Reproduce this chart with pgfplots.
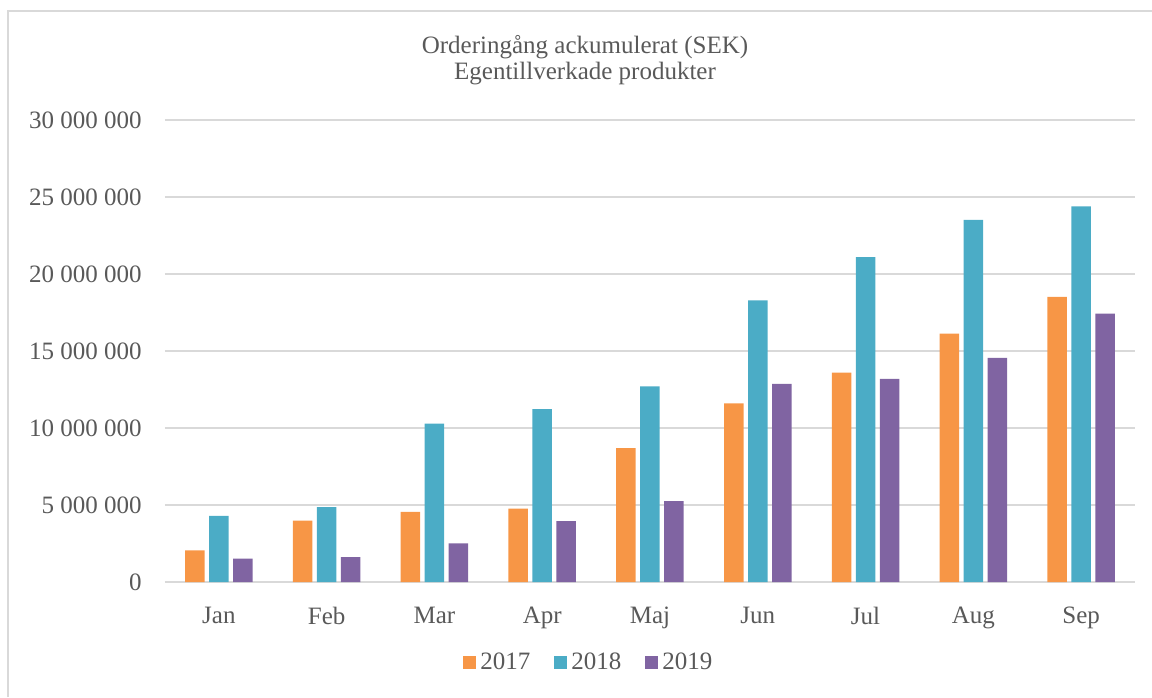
\documentclass[border=0pt]{standalone}
\usepackage{pgfplots}
\pgfplotsset{compat=1.18}
\usepackage{fontspec}
\setmainfont{Liberation Serif}
\definecolor{c17}{HTML}{F79646}
\definecolor{c18}{HTML}{4BACC6}
\definecolor{c19}{HTML}{8064A2}
\definecolor{gridgray}{HTML}{D9D9D9}
\definecolor{txt}{HTML}{595959}
\begin{document}
\fontsize{12.5}{15}\selectfont
\begin{tikzpicture}
\useasboundingbox (0,0) rectangle (576pt,348.5pt);
\draw[gridgray, line width=0.75pt] (4pt,0pt) -- (4pt,343pt) -- (576pt,343pt);
\node[txt, font=\fontsize{12.5}{15}\selectfont] at (292.5pt,325pt) {Orderingång ackumulerat (SEK)};
\node[txt, font=\fontsize{12.5}{15}\selectfont] at (292.5pt,311.5pt) {Egentillverkade produkter};
\begin{axis}[
  at={(82.5pt,57.5pt)}, anchor=south west,
  scale only axis, width=485pt, height=231pt,
  ybar=2.25pt, bar width=9.75pt,
  xmin=-0.5, xmax=8.5, ymin=0, ymax=30000000,
  xtick={0,...,8},
  xticklabels={Jan,Feb,Mar,Apr,Maj,Jun,Jul,Aug,Sep},
  ytick={0,5000000,10000000,15000000,20000000,25000000,30000000},
  scaled y ticks=false,
  yticklabel={\pgfmathprintnumber[fixed,precision=0,1000 sep={\ },assume math mode=true]{\tick}},
  major tick length=0pt,
  axis x line*=bottom, axis y line*=left,
  y axis line style={draw=none},
  x axis line style={draw=gridgray, line width=0.75pt},
  ymajorgrids, grid style={gridgray, line width=0.75pt},
  ticklabel style={font=\fontsize{12.5}{15}\selectfont, text=txt},
  yticklabel style={anchor=east, inner sep=0pt, xshift=-11.5pt},
  xticklabel style={anchor=north, inner sep=0pt, yshift=-12.3pt},
  legend columns=3,
  legend style={at={(0.438,-0.1753)}, anchor=center, draw=none, fill=none,
    font=\fontsize{12.5}{15}\selectfont, text=txt,
    /tikz/every even column/.append style={column sep=10pt}},
  legend image code/.code={\fill[#1] (0pt,-3.25pt) rectangle (6.5pt,3.25pt);},
]
\addplot[fill=c17, draw=none] coordinates {(0,2060000) (1,3980000) (2,4550000) (3,4760000) (4,8700000) (5,11600000) (6,13600000) (7,16130000) (8,18520000)};
\addplot[fill=c18, draw=none] coordinates {(0,4290000) (1,4870000) (2,10290000) (3,11220000) (4,12700000) (5,18280000) (6,21090000) (7,23520000) (8,24390000)};
\addplot[fill=c19, draw=none] coordinates {(0,1510000) (1,1620000) (2,2510000) (3,3960000) (4,5250000) (5,12870000) (6,13190000) (7,14550000) (8,17430000)};
\legend{2017,2018,2019}
\end{axis}
\end{tikzpicture}
\end{document}
